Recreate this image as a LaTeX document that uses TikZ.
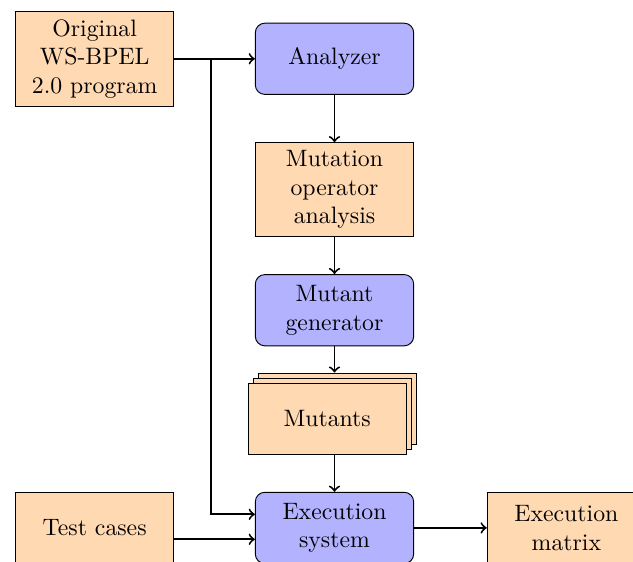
\documentclass[tikz,border=0pt]{standalone}
\usetikzlibrary{shadows,calc}
\begin{document}
\begin{tikzpicture}[
  x=0.42105pt, y=-0.42105pt,
  box/.style={draw, text width=6em, align=center, minimum height=3em, inner sep=3.333pt},
  proc/.style={box, rounded corners, fill=blue!30},
  data/.style={box, fill=orange!30},
  conn/.style={thick, ->},
]
\useasboundingbox (0,0) rectangle (633,561);

% nodes
\node[data] (orig)     at (94.7,58.8)  {Original WS-BPEL 2.0 program};
\node[proc] (analyzer) at (334.5,58.8) {Analyzer};
\node[data] (moa)      at (334.5,189.7) {Mutation operator analysis};
\node[proc] (mg)       at (334.5,310.2) {Mutant generator};
\node[data, copy shadow={shadow xshift=1ex, shadow yshift=1ex},
  copy shadow={shadow xshift=.5ex, shadow yshift=.5ex}]
                       (mutants) at (327.2,418.9) {Mutants};
\node[proc] (exec)     at (334.5,527.9) {Execution system};
\node[data] (tc)       at (94.7,527.9) {Test cases};
\node[data] (matrix)   at (566.4,527.9) {Execution matrix};

% helper points
\coordinate (branch) at (210.7,58.8);
\coordinate (mtop) at ($(mutants.north)+(0,-10.2)$);

% connectors
\draw[conn] (orig.east) -- (analyzer.west);
\draw[conn] (analyzer) -- (moa);
\draw[conn] (moa) -- (mg);
\draw[conn] (mg.south) -- (mg.south |- mtop);
\draw[conn] (exec.north |- mutants.south) -- (exec.north);
\draw[conn] (branch) |- ($(exec.west)+(0,-13.6)$);
\draw[conn] ($(tc.east)+(0,11.4)$) -- ($(exec.west)+(0,11.4)$);
\draw[conn] (exec) -- (matrix);
\end{tikzpicture}
\end{document}
